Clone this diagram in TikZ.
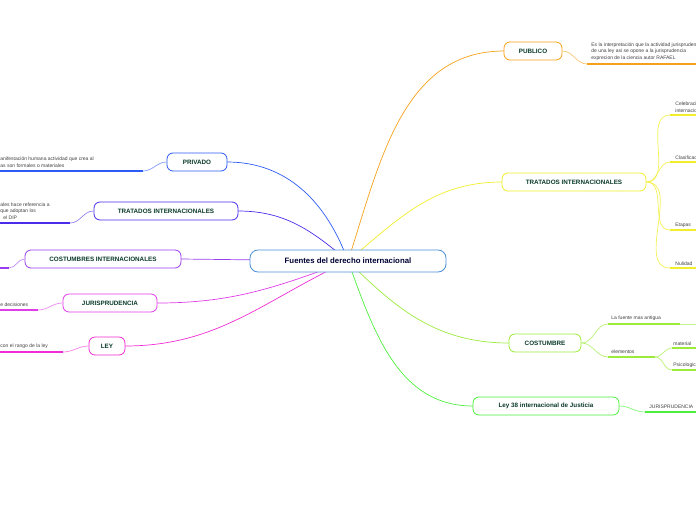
\documentclass[tikz,border=0pt]{standalone}
\usepackage{fontspec}
\setmainfont{Liberation Sans}
\usetikzlibrary{positioning}
\definecolor{cOrange}{HTML}{F7A11A}
\definecolor{cYellow}{HTML}{F2EE2A}
\definecolor{cLime}{HTML}{9CEB3C}
\definecolor{cGreen}{HTML}{4CF03C}
\definecolor{cBlue}{HTML}{2C5BF5}
\definecolor{cIndigo}{HTML}{4B2CEC}
\definecolor{cViolet}{HTML}{9A3CF0}
\definecolor{cMagenta}{HTML}{E03CE8}
\definecolor{cPink}{HTML}{F02CD6}
\definecolor{cText}{HTML}{0A3A2A}
\definecolor{cCentre}{HTML}{4A8FD8}
\begin{document}
\begin{tikzpicture}[x=1pt,y=-1pt,
        topic/.style = {draw, fill=white, rounded corners=6pt, line width=0.8pt,
                        minimum height=18pt, font=\fontsize{6.3}{7}\selectfont\bfseries,
                        text=cText, inner xsep=4pt},
        leaf/.style = {anchor=south west, inner sep=1.2pt, align=left,
                       font=\fontsize{5}{6.6}\selectfont, text=black!75},
        branch/.style = {line width=0.7pt},
        uline/.style = {line width=1.4pt}]

        \useasboundingbox (0,0) rectangle (696,520);
        \clip (0,0) rectangle (696,520);

        % Centre
        \coordinate (hub) at (348,261);

        % Main branches
        \draw[branch,cOrange] (hub) to[out=72,in=180] (504,51);
        \draw[branch,cYellow] (hub) to[out=40,in=180] (502,182);
        \draw[branch,cLime] (hub) to[out=-45,in=180] (509,343);
        \draw[branch,cGreen] (hub) to[out=-70,in=180] (473,406);
        \draw[branch,cBlue] (hub) to[out=110,in=0] (227,162);
        \draw[branch,cIndigo] (hub) to[out=140,in=0] (238,211);
        \draw[branch,cViolet] (hub) -- (181,259);
        \draw[branch,cMagenta] (hub) to[out=200,in=0] (157,303);
        \draw[branch,cPink] (hub) to[out=205,in=0] (125,346);

        \node[topic,draw=cCentre,minimum width=196pt,minimum height=22pt,
              rounded corners=8pt,text=black!80!blue,
              font=\fontsize{7.8}{9}\selectfont\bfseries] (centre) at (hub)
              {Fuentes del derecho internacional};

        % Right side topics
        \node[topic,draw=cOrange,minimum width=58pt] (publico) at (533,51) {PUBLICO};
        \node[topic,draw=cYellow,minimum width=144pt] (tratR) at (574,182) {TRATADOS INTERNACIONALES};
        \node[topic,draw=cLime,minimum width=72pt] (costumbre) at (545,343) {COSTUMBRE};
        \node[topic,draw=cGreen,minimum width=146pt] (ley38) at (546,406) {Ley 38 internacional de Justicia};

        % Left side topics
        \node[topic,draw=cBlue,minimum width=60pt] (privado) at (197,162) {PRIVADO};
        \node[topic,draw=cIndigo,minimum width=144pt] (tratL) at (166,211) {TRATADOS INTERNACIONALES};
        \node[topic,draw=cViolet,minimum width=156pt] (costInt) at (103,259) {COSTUMBRES INTERNACIONALES};
        \node[topic,draw=cMagenta,minimum width=94pt] (juris) at (110,303) {JURISPRUDENCIA};
        \node[topic,draw=cPink,minimum width=36pt] (ley) at (107,346) {LEY};

        % Publico leaf
        \coordinate (pubA) at (587,64); \coordinate (pubB) at (696,64);
        \draw[branch,cOrange!60] (publico.east) to[out=0,in=180] (pubA);
        \draw[uline,cOrange] (pubA) -- (pubB);
        \node[leaf] (pubTxt) at (590,62) {Es la interpretación que la actividad jurisprudencial\\de una ley asi se opone a la jurisprudencia\\exprecion de la ciencia autor RAFAEL};

        % Tratados (right) leaves
        \foreach \name/\y/\txt in {celebra/115/{Celebración de tratados\\internacionales},
                                   clasif/162/{Clasificación},
                                   etapas/230/{Etapas},
                                   nulidad/268/{Nulidad}} {
            \coordinate (\name A) at (670,\y);
            \draw[branch,cYellow!80] (tratR.east) to[out=0,in=180] (\name A);
            \draw[uline,cYellow] (\name A) -- (696,\y);
            \node[leaf] (\name) at (674,\y-1) {\txt};
        }

        % Costumbre leaves
        \coordinate (antA) at (608,324); \coordinate (antB) at (680,324);
        \coordinate (eleA) at (608,357); \coordinate (eleB) at (655,357);
        \draw[branch,cLime!70] (costumbre.east) to[out=0,in=180] (antA);
        \draw[branch,cLime!70] (costumbre.east) to[out=0,in=180] (eleA);
        \draw[uline,cLime] (antA) -- (antB);
        \draw[branch,cLime!60] (antB) -- (696,324);
        \draw[uline,cLime] (eleA) -- (eleB);
        \node[leaf] (antigua) at (610,322) {La fuente mas antigua};
        \node[leaf] (elementos) at (610,355) {elementos};
        \foreach \name/\y/\txt in {material/348/{material},psico/370/{Psicologico}} {
            \coordinate (\name A) at (672,\y);
            \draw[branch,cLime!70] (eleB) to[out=0,in=180] (\name A);
            \draw[uline,cLime] (\name A) -- (696,\y);
            \node[leaf] (\name) at (672,\y-1) {\txt};
        }

        % Ley 38 leaf
        \coordinate (jurA) at (645,412);
        \draw[branch,cGreen!70] (ley38.east) to[out=0,in=180] (jurA);
        \draw[uline,cGreen] (jurA) -- (696,412);
        \node[leaf] (jur38) at (648,410) {JURISPRUDENCIA};

        % Left leaves
        \coordinate (privA) at (143,171);
        \draw[branch,cBlue!60] (privado.west) to[out=180,in=0] (privA);
        \draw[uline,cBlue] (privA) -- (0,171);
        \node[leaf] (privTxt) at (-1,169) {anifestación humana actividad que crea al\\as son formales o materiales};

        \coordinate (tratLA) at (70,223);
        \draw[branch,cIndigo!60] (tratL.west) to[out=180,in=0] (tratLA);
        \draw[uline,cIndigo] (tratLA) -- (0,223);
        \node[leaf] (tratLTxt) at (-1,221) {ales hace referencia a\\que adoptan los\\\hspace*{3pt}el DIP};

        \coordinate (costA) at (9,268);
        \draw[branch,cViolet!60] (costInt.west) to[out=180,in=0] (costA);
        \draw[uline,cViolet] (costA) -- (0,268);

        \coordinate (jurisA) at (38,310);
        \draw[branch,cMagenta!60] (juris.west) to[out=180,in=0] (jurisA);
        \draw[uline,cMagenta] (jurisA) -- (0,310);
        \node[leaf] (jurisTxt) at (-1,308) {e decisiones};

        \coordinate (leyA) at (63,352);
        \draw[branch,cPink!60] (ley.west) to[out=180,in=0] (leyA);
        \draw[uline,cPink] (leyA) -- (0,352);
        \node[leaf] (leyTxt) at (-1,350) {con el rango de la ley};

\end{tikzpicture}
\end{document}
